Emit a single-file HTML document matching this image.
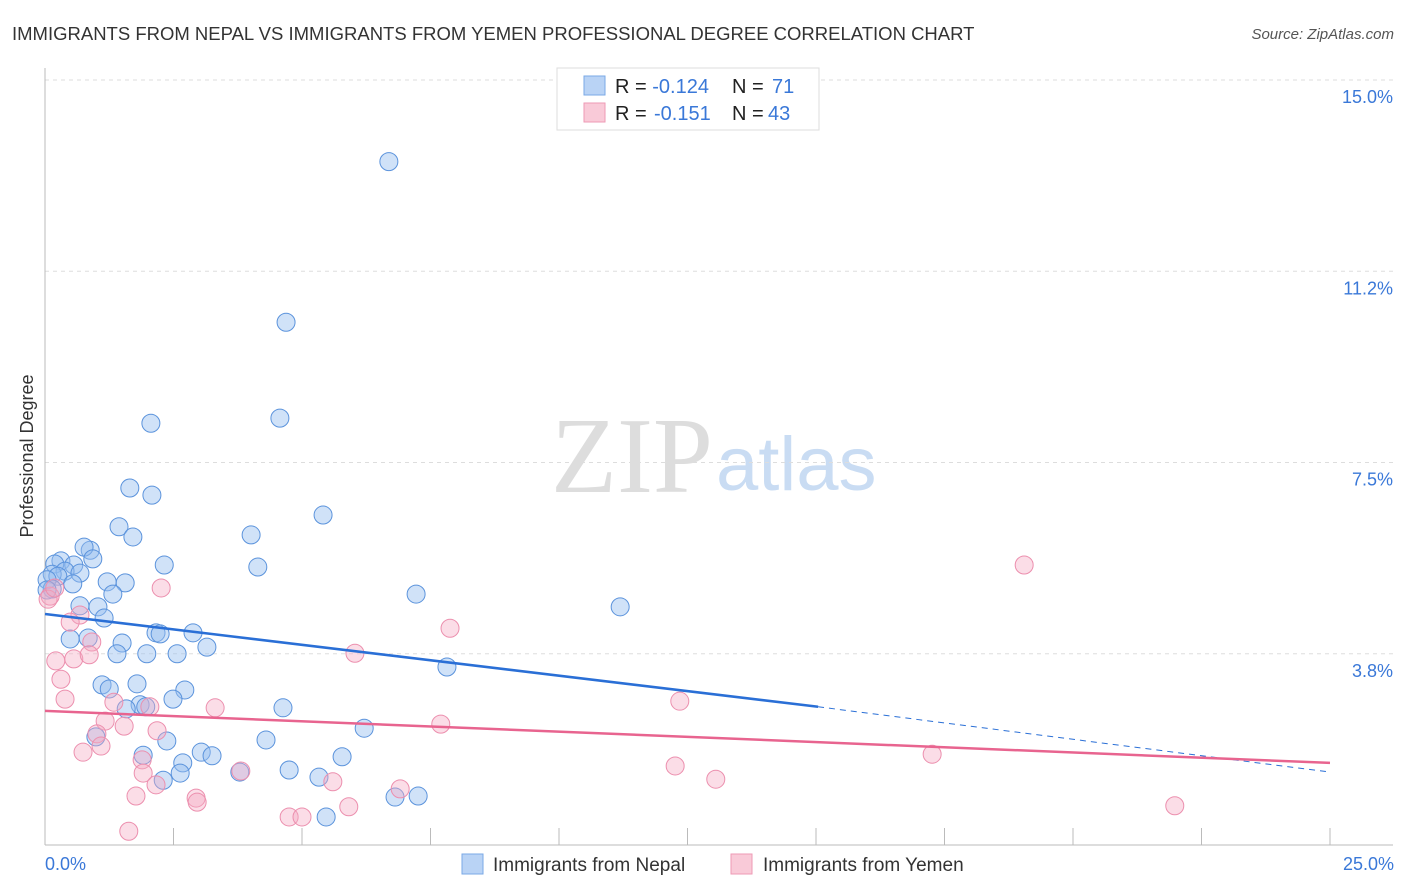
<!DOCTYPE html>
<html><head><meta charset="utf-8"><style>
body{margin:0;background:#fff;font-family:"Liberation Sans",sans-serif}
svg{display:block}
</style></head><body>
<svg width="1406" height="892">
<text x="12" y="40" font-size="18.5" fill="#333">IMMIGRANTS FROM NEPAL VS IMMIGRANTS FROM YEMEN PROFESSIONAL DEGREE CORRELATION CHART</text>
<text x="1394" y="39" font-size="15" fill="#555" font-style="italic" text-anchor="end">Source: ZipAtlas.com</text>
<text x="713" y="492" font-size="108" fill="#ddd" text-anchor="end" font-family="Liberation Serif,serif">ZIP</text>
<text x="716" y="490" font-size="76" fill="#c9dcf3">atlas</text>
<g id="grid"></g>
<line x1="45" y1="68" x2="45" y2="845" stroke="#bbb"/>
<line x1="45" y1="845" x2="1393" y2="845" stroke="#bbb"/>
<text x="33" y="456" font-size="18" fill="#333" text-anchor="middle" transform="rotate(-90 33 456)">Professional Degree</text>
<text x="45" y="870" font-size="18" fill="#3a78d8">0.0%</text>
<text x="1394" y="870" font-size="18" fill="#3a78d8" text-anchor="end">25.0%</text>
<g id="pts"></g>
<g id="trends"></g>
<g>
<rect x="557" y="68" width="262" height="62" fill="#fff" stroke="#ddd"/>
<rect x="584" y="76" width="21" height="19" fill="#b9d3f5" stroke="#7aa8e6"/>
<rect x="584" y="103" width="21" height="19" fill="#f9cad8" stroke="#ee9ab5"/>
<text x="615" y="93" font-size="20" fill="#222">R = <tspan fill="#3a78d8">-0.124</tspan><tspan x="732">N = </tspan><tspan fill="#3a78d8" x="772">71</tspan></text>
<text x="615" y="120" font-size="20" fill="#222">R = <tspan fill="#3a78d8" x="654">-0.151</tspan><tspan x="732">N = </tspan><tspan fill="#3a78d8" x="768">43</tspan></text>
</g>
<g>
<rect x="462" y="854" width="21" height="20" fill="#b9d3f5" stroke="#7aa8e6"/>
<text x="493" y="871" font-size="19" fill="#333">Immigrants from Nepal</text>
<rect x="731" y="854" width="21" height="20" fill="#f9cad8" stroke="#ee9ab5"/>
<text x="763" y="871" font-size="19" fill="#333">Immigrants from Yemen</text>
</g>
</svg>
<script>
const yTicks=[3.75,7.5,11.25,15];
const yTickLabels=["3.8%","7.5%","11.2%","15.0%"];
const xTicks=[0,2.5,5,7.5,10,12.5,15,17.5,20,22.5,25];
const nepalX=[6.69,4.69,2.06,4.57,1.65,2.08,5.41,1.44,1.71,4.01,0.31,0.88,0.76,0.93,0.56,0.19,0.39,0.14,0.25,0.04,0.68,2.32,4.14,1.21,1.56,0.54,0.14,1.32,7.22,11.19,0.68,1.03,1.15,2.16,2.24,2.88,0.49,0.84,1.5,3.15,1.4,1.98,2.57,7.82,1.11,1.25,1.79,2.72,2.49,4.63,1.85,1.58,1.96,0.99,2.37,6.21,4.3,1.91,3.04,3.25,5.78,2.68,2.63,3.79,4.75,5.33,2.3,6.81,7.26,5.47,0.04];
const nepalY=[13.4,10.25,8.27,8.37,7.0,6.86,6.47,6.24,6.04,6.08,5.57,5.78,5.84,5.61,5.49,5.51,5.37,5.31,5.27,5.2,5.33,5.49,5.45,5.16,5.14,5.12,5.02,4.92,4.92,4.67,4.69,4.67,4.45,4.16,4.14,4.16,4.04,4.06,3.96,3.88,3.75,3.75,3.75,3.49,3.14,3.06,3.16,3.04,2.86,2.69,2.75,2.67,2.71,2.12,2.04,2.29,2.06,1.76,1.82,1.75,1.73,1.61,1.41,1.43,1.47,1.33,1.27,0.94,0.96,0.55,5.0];
const yemenX=[19.05,2.26,7.88,6.03,0.68,0.49,0.91,0.21,0.56,0.86,0.31,0.39,1.34,2.04,3.31,12.35,1.17,1.54,7.7,2.18,1.01,0.74,1.09,1.89,1.91,3.81,17.26,12.26,13.05,5.6,6.91,2.16,1.77,2.94,2.96,5.91,4.75,5.0,21.98,1.63,0.1,0.06,0.19];
const yemenY=[5.49,5.04,4.25,3.76,4.51,4.37,3.98,3.61,3.65,3.73,3.25,2.86,2.8,2.71,2.69,2.82,2.43,2.33,2.37,2.24,2.18,1.82,1.94,1.67,1.41,1.45,1.78,1.55,1.29,1.24,1.1,1.18,0.96,0.92,0.84,0.75,0.55,0.55,0.77,0.27,4.88,4.82,5.04];
const trendX=[0,15.04,25];
const nepalTrend=[4.53,2.71,1.43];
const yemenTrend=[2.63,2.0,1.61];
const NS="http://www.w3.org/2000/svg";
const sx=v=>45+v*51.4, sy=v=>845-v*51.0;
function mk(t,a,p){const e=document.createElementNS(NS,t);for(const k in a)e.setAttribute(k,a[k]);p.appendChild(e);return e;}
const grid=document.getElementById('grid');
yTicks.forEach((t,i)=>{
 const l=mk('line',{x1:45,x2:1393,y1:sy(t),y2:sy(t),stroke:'#ddd','stroke-dasharray':'4 4'},grid);
 
 
 const tx=mk('text',{x:1393,y:sy(t)+23,'font-size':18,fill:'#3a78d8','text-anchor':'end'},grid);
 tx.textContent=yTickLabels[i];
 
 
});
xTicks.forEach(t=>{
 const l=mk('line',{x1:sx(t),x2:sx(t),y1:828,y2:845,stroke:'#bbb'},grid);
 
 
});
const pts=document.getElementById('pts');
nepalX.forEach((x,i)=>{
 const c=mk('circle',{cx:sx(x),cy:sy(nepalY[i]),r:9,fill:'rgba(150,190,240,0.45)',stroke:'#5b93dc','stroke-width':1},pts);
 
 
});
yemenX.forEach((x,i)=>{
 const c=mk('circle',{cx:sx(x),cy:sy(yemenY[i]),r:9,fill:'rgba(245,170,195,0.4)',stroke:'#ec8fae','stroke-width':1},pts);
 
 
});
const tr=document.getElementById('trends');
let a=mk('line',{x1:sx(trendX[0]),y1:sy(nepalTrend[0]),x2:sx(trendX[1]),y2:sy(nepalTrend[1]),stroke:'#2a6fd6','stroke-width':2.5},tr);


let b=mk('line',{x1:sx(trendX[1]),y1:sy(nepalTrend[1]),x2:sx(trendX[2]),y2:sy(nepalTrend[2]),stroke:'#2a6fd6','stroke-width':1,'stroke-dasharray':'6 5'},tr);


let c=mk('line',{x1:sx(trendX[0]),y1:sy(yemenTrend[0]),x2:sx(trendX[2]),y2:sy(yemenTrend[2]),stroke:'#e8648f','stroke-width':2.5},tr);


</script>
</body></html>
